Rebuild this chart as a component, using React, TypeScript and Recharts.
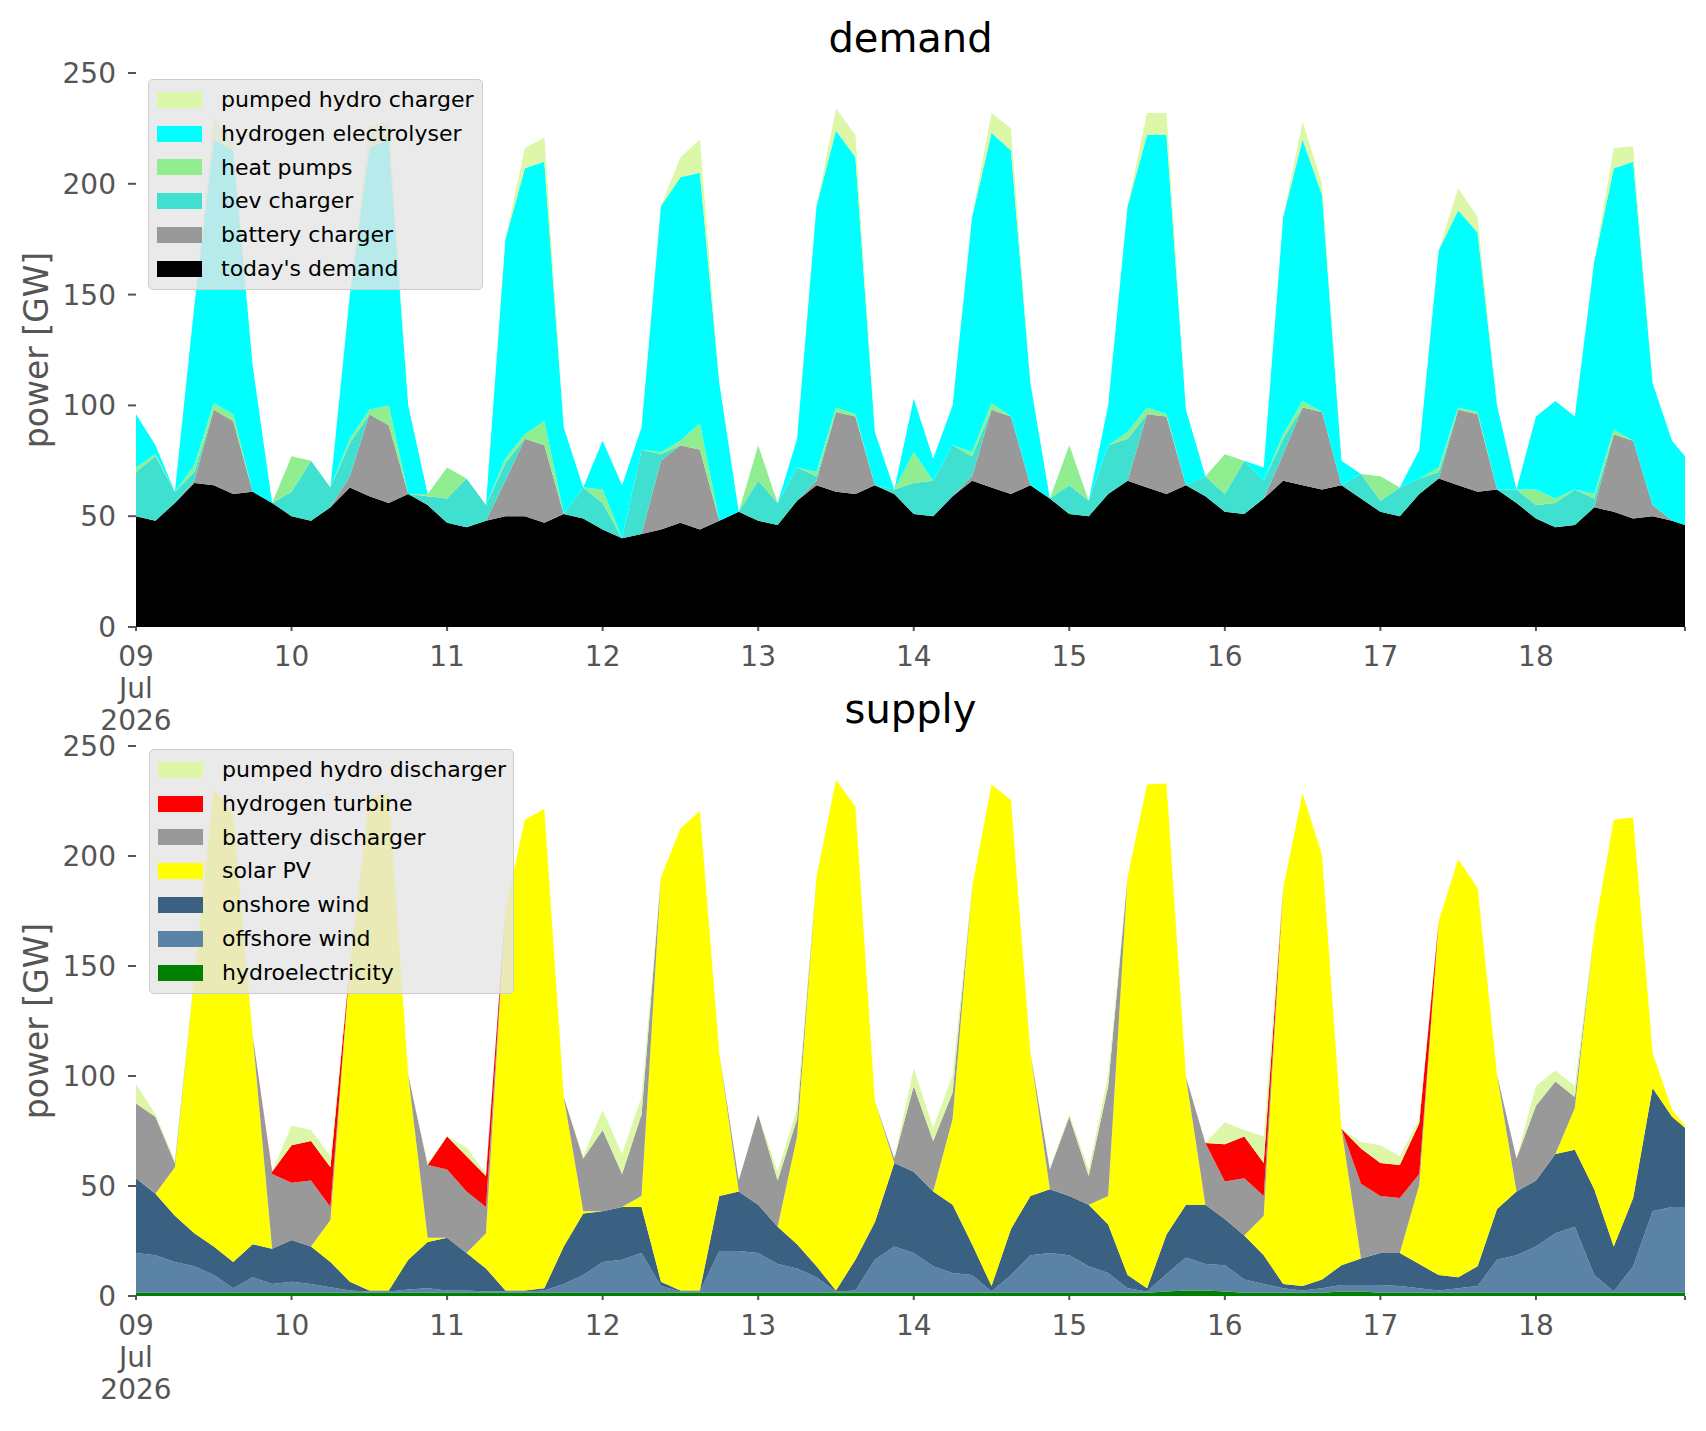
import { AreaChart, Area, XAxis, YAxis } from 'recharts';

// time axis in hours from 09 Jul 00:00 (3-hourly samples, last one at 23:00 on 18 Jul)
const HOURS = [
  0, 3, 6, 9, 12, 15, 18, 21, 24, 27, 30, 33, 36, 39, 42, 45,
  48, 51, 54, 57, 60, 63, 66, 69, 72, 75, 78, 81, 84, 87, 90, 93,
  96, 99, 102, 105, 108, 111, 114, 117, 120, 123, 126, 129, 132, 135, 138, 141,
  144, 147, 150, 153, 156, 159, 162, 165, 168, 171, 174, 177, 180, 183, 186, 189,
  192, 195, 198, 201, 204, 207, 210, 213, 216, 219, 222, 225, 228, 231, 234, 237, 239,
];

const DAY_TICKS = [0, 24, 48, 72, 96, 120, 144, 168, 192, 216, 239];
const DAY_LABELS = ['09', '10', '11', '12', '13', '14', '15', '16', '17', '18', ''];
const Y_TICKS = [0, 50, 100, 150, 200, 250];

// ---- demand [GW] ----
const TODAY = [
  50, 48, 56, 65, 64, 60, 61, 56, 50, 48, 54, 63, 59, 56, 60, 55,
  47, 45, 48, 50, 50, 47, 51, 49, 44, 40, 42, 44, 47, 44, 48, 52,
  48, 46, 57, 64, 61, 60, 64, 60, 51, 50, 59, 66, 63, 60, 64, 58,
  51, 50, 60, 66, 63, 60, 64, 59, 52, 51, 58, 66, 64, 62, 64, 58,
  52, 50, 60, 67, 64, 61, 62, 56, 49, 45, 46, 54, 52, 49, 50, 48, 46,
];
const BATTERY_CHARGER = [
  0, 0, 0, 1, 34, 33, 0, 0, 0, 0, 0, 5, 37, 35, 0, 0,
  0, 0, 0, 16, 35, 35, 0, 0, 0, 0, 0, 31, 35, 36, 0, 0,
  0, 0, 0, 2, 36, 35, 0, 0, 0, 0, 0, 2, 35, 35, 0, 0,
  0, 0, 0, 0, 33, 35, 0, 0, 0, 0, 0, 12, 35, 35, 0, 0,
  0, 0, 0, 0, 34, 35, 0, 0, 0, 0, 0, 0, 35, 35, 5, 0, 0,
];
const BEV_CHARGER = [
  20, 29, 5, 4, 0, 0, 0, 0, 11, 27, 9, 15, 0, 0, 0, 4,
  11, 22, 7, 8, 0, 0, 0, 14, 12, 0, 38, 3, 0, 0, 0, 0,
  18, 10, 15, 2, 0, 0, 0, 2, 14, 16, 23, 9, 0, 0, 0, 0,
  13, 7, 22, 19, 0, 0, 0, 9, 8, 24, 8, 7, 0, 0, 0, 11,
  5, 13, 7, 3, 0, 0, 0, 6, 6, 11, 16, 4, 0, 0, 0, 0, 0,
];
const HEAT_PUMPS = [
  2, 1, 0, 3, 3, 3, 0, 0, 16, 0, 0, 2, 2, 9, 0, 1,
  14, 0, 0, 2, 2, 11, 0, 0, 6, 0, 0, 1, 2, 12, 0, 0,
  16, 0, 0, 2, 2, 1, 0, 0, 14, 0, 0, 2, 3, 0, 0, 0,
  18, 0, 0, 3, 3, 1, 0, 0, 18, 0, 0, 2, 3, 0, 0, 0,
  11, 0, 0, 2, 1, 1, 0, 0, 7, 2, 0, 2, 2, 0, 0, 0, 0,
];
const ELECTROLYSER = [
  24, 4, 0, 72, 119, 119, 57, 0, 0, 0, 0, 65, 118, 120, 40, 0,
  0, 0, 0, 99, 120, 117, 39, 0, 22, 24, 10, 111, 119, 113, 62, 0,
  0, 0, 13, 120, 125, 116, 24, 0, 24, 10, 18, 106, 122, 120, 46, 0,
  0, 0, 18, 102, 123, 126, 34, 0, 0, 0, 6, 98, 118, 98, 11, 0,
  0, 0, 13, 98, 89, 81, 38, 0, 33, 44, 33, 105, 118, 126, 55, 36, 31,
];
const PH_CHARGER = [
  0, 0, 0, 0, 10, 3, 0, 0, 0, 0, 0, 0, 10, 8, 0, 0,
  0, 0, 0, 0, 9, 11, 0, 0, 0, 0, 0, 0, 9, 15, 0, 0,
  0, 0, 0, 0, 10, 10, 0, 0, 0, 0, 0, 0, 9, 10, 0, 0,
  0, 0, 0, 0, 10, 10, 0, 0, 0, 0, 0, 0, 8, 5, 0, 0,
  0, 0, 0, 0, 10, 7, 0, 0, 0, 0, 0, 0, 9, 7, 0, 0, 0,
];

// ---- supply [GW] ----
const HYDRO = [
  1.5, 1.5, 1.5, 1.5, 1.5, 1.5, 1.5, 1.5, 1.5, 1.5, 1.5, 1.5, 1.5, 1.5, 1.5, 1.5,
  1.5, 1.5, 1.5, 1.5, 1.5, 1.5, 1.5, 1.5, 1.5, 1.5, 1.5, 1.5, 1.5, 1.5, 1.5, 1.5,
  1.5, 1.5, 1.5, 1.5, 1.5, 1.5, 1.5, 1.5, 1.5, 1.5, 1.5, 1.5, 1.5, 1.5, 1.5, 1.5,
  1.5, 1.5, 1.5, 1.5, 1.5, 2, 2.5, 2.5, 2, 1.5, 1.5, 1.5, 1.5, 1.5, 2, 2,
  1.5, 1.5, 1.5, 1.5, 1.5, 1.5, 1.5, 1.5, 1.5, 1.5, 1.5, 1.5, 1.5, 1.5, 1.5, 1.5, 1.5,
];
const OFFSHORE = [
  18, 17, 14, 12, 8, 2, 7, 4, 5, 4, 2.5, 1, 0.5, 0.5, 1.5, 2,
  1, 1, 0.5, 0.5, 0.5, 1, 4, 8, 14, 15, 18, 3, 0.5, 0.5, 19, 19,
  18, 13, 11, 7, 0.5, 1, 15, 21, 18, 12, 9, 8, 0.5, 8, 17, 18,
  17, 12, 9, 2, 0.5, 8, 15, 12, 12, 6, 4, 2, 1, 2, 3, 3,
  3.5, 3, 2, 1, 2, 3, 15, 17, 21, 27, 30, 8, 0.5, 12, 37, 39, 39,
];
const ONSHORE = [
  34, 28, 21, 15, 13, 12, 15, 16, 19, 17, 11.5, 4, 0.5, 0.5, 13.5, 21,
  24, 17, 10.5, 0.5, 0.5, 1, 17, 28, 23, 24, 21, 2, 0.5, 0.5, 25, 27,
  22, 17, 11, 5, 0.5, 14, 17, 38, 37, 34, 31, 14, 2.5, 21, 27, 29,
  27, 28, 22, 6, 1.5, 18, 24, 27, 21, 20, 13, 2, 2, 4, 9, 12,
  14.5, 15, 11, 7, 5, 9, 23, 29, 30, 36, 35, 39, 20.5, 31, 56, 41, 36,
];
const SOLAR = [
  0, 0, 22, 117, 208, 203, 95, 0, 0, 0, 19, 144, 224, 226, 84, 2,
  0, 0, 16, 173, 214, 218, 68, 1, 0, 0, 5, 184, 210, 218, 65, 0,
  0, 0, 49, 177, 232, 206, 55, 0, 0, 0, 39, 162, 228, 195, 65, 0,
  0, 0, 13, 181, 229, 205, 58, 0, 0, 0, 18, 180, 224, 193, 62, 0,
  0, 0, 36, 161, 190, 172, 61, 0, 0, 0, 19, 117, 194, 173, 16, 3, 1,
];
const BATTERY_DISCHARGER = [
  34, 35, 2, 0, 0, 0, 0, 34, 26, 30, 6, 0, 0, 0, 0, 33,
  31, 28, 12, 0, 0, 0, 0, 24, 37, 15, 37, 0, 0, 0, 0, 5,
  41, 21, 8, 0, 0, 0, 0, 2, 39, 23, 12, 0, 0, 0, 0, 9,
  36, 13, 50, 0, 0, 0, 0, 28, 17, 26, 9, 0, 0, 0, 0, 34,
  26, 25, 5, 0, 0, 0, 0, 15, 34, 33, 5, 0, 0, 0, 0, 0, 0,
];
const H2_TURBINE = [
  0, 0, 0, 0, 0, 0, 0, 1, 17, 18, 18, 0, 0, 0, 0, 0,
  15, 16, 14, 0, 0, 0, 0, 0, 0, 0, 0, 0, 0, 0, 0, 0,
  0, 0, 0, 0, 0, 0, 0, 0, 0, 0, 0, 0, 0, 0, 0, 0,
  0, 0, 0, 0, 0, 0, 0, 0, 17, 19, 15, 0, 0, 0, 0, 16,
  15, 15, 23, 0, 0, 0, 0, 0, 0, 0, 0, 0, 0, 0, 0, 0, 0,
];
const PH_DISCHARGER = [
  9, 1, 1, 0, 0, 0, 0, 0, 9, 5, 5, 0, 0, 0, 0, 1,
  0, 4, 1, 0, 0, 0, 0, 1, 9, 9, 8, 0, 0, 0, 0, 0,
  0, 4, 5, 0, 0, 0, 0, 0, 8, 6, 8, 0, 0, 0, 0, 1,
  1, 3, 5, 0, 0, 0, 0, 0, 10, 3, 12, 0, 0, 0, 0, 3,
  8, 4, 2, 0, 0, 0, 0, 0, 9, 5, 5, 0, 0, 0, 0, 0, 0,
];

const DEMAND_SERIES = [
  { key: 'today', name: "today's demand", color: '#000000', values: TODAY },
  { key: 'battery', name: 'battery charger', color: '#999999', values: BATTERY_CHARGER },
  { key: 'bev', name: 'bev charger', color: '#40e0d0', values: BEV_CHARGER },
  { key: 'heat', name: 'heat pumps', color: '#90ee90', values: HEAT_PUMPS },
  { key: 'h2', name: 'hydrogen electrolyser', color: '#00ffff', values: ELECTROLYSER },
  { key: 'ph', name: 'pumped hydro charger', color: '#dbf7a7', values: PH_CHARGER },
];

const SUPPLY_SERIES = [
  { key: 'hydro', name: 'hydroelectricity', color: '#008000', values: HYDRO },
  { key: 'offshore', name: 'offshore wind', color: '#5b83a5', values: OFFSHORE },
  { key: 'onshore', name: 'onshore wind', color: '#3a6182', values: ONSHORE },
  { key: 'solar', name: 'solar PV', color: '#ffff00', values: SOLAR },
  { key: 'battery', name: 'battery discharger', color: '#999999', values: BATTERY_DISCHARGER },
  { key: 'h2', name: 'hydrogen turbine', color: '#ff0000', values: H2_TURBINE },
  { key: 'ph', name: 'pumped hydro discharger', color: '#dbf7a7', values: PH_DISCHARGER },
];

type Series = { key: string; name: string; color: string; values: number[] };

function toRows(series: Series[]) {
  return HOURS.map((h, i) => {
    const row: Record<string, number> = { h };
    for (const s of series) row[s.key] = s.values[i];
    return row;
  });
}

const FONT = '"DejaVu Sans", sans-serif';
const GREY = '#555555';

function DayTick({ x, y, payload }: any) {
  const idx = DAY_TICKS.indexOf(payload.value);
  const label = DAY_LABELS[idx];
  if (!label) return null;
  const lines = idx === 0 ? [label, 'Jul', '2026'] : [label];
  return (
    <text x={x} y={y} textAnchor="middle" fill={GREY} fontSize={28} fontFamily={FONT}>
      {lines.map((l, k) => (
        <tspan key={k} x={x} dy={k === 0 ? 33 : 32}>
          {l}
        </tspan>
      ))}
    </text>
  );
}

function StackPanel({ series, top, height, marginTop, marginBottom }: any) {
  const rows = toRows(series);
  return (
    <div style={{ position: 'absolute', left: 0, top }}>
      <AreaChart
        width={1706}
        height={height}
        data={rows}
        margin={{ top: marginTop, right: 21, bottom: marginBottom, left: 66 }}
      >
        <XAxis
          dataKey="h"
          type="number"
          domain={[0, 239]}
          ticks={DAY_TICKS}
          interval={0}
          axisLine={false}
          tickLine={{ stroke: GREY, strokeWidth: 2 }}
          tickSize={4}
          tickMargin={2}
          height={120}
          tick={<DayTick />}
        />
        <YAxis
          domain={[0, 250]}
          ticks={Y_TICKS}
          axisLine={false}
          tickLine={{ stroke: GREY, strokeWidth: 2 }}
          tickSize={8}
          tickMargin={12}
          width={70}
          tick={{ fill: GREY, fontSize: 28, fontFamily: FONT }}
        />
        {series.map((s: Series) => (
          <Area
            key={s.key}
            type="linear"
            dataKey={s.key}
            name={s.name}
            stackId="stack"
            stroke="none"
            fill={s.color}
            fillOpacity={1}
            dot={false}
            activeDot={false}
            isAnimationActive={false}
          />
        ))}
      </AreaChart>
    </div>
  );
}

function LegendBox({ items, left, top, width }: { items: Series[]; left: number; top: number; width: number }) {
  const rowH = 33.8;
  return (
    <div
      style={{
        position: 'absolute',
        left,
        top,
        width,
        height: items.length * rowH + 8,
        background: 'rgba(229,229,229,0.8)',
        border: '1px solid #cccccc',
        borderRadius: 5,
        boxSizing: 'border-box',
        fontFamily: FONT,
        fontSize: 22,
        color: '#000',
      }}
    >
      {items.map((s, i) => (
        <div key={s.key} style={{ position: 'absolute', left: 0, top: 3 + i * rowH, height: rowH, width: '100%' }}>
          <div
            style={{
              position: 'absolute',
              left: 8,
              top: rowH / 2 - 8,
              width: 45,
              height: 16,
              background: s.color,
            }}
          />
          <div style={{ position: 'absolute', left: 72, top: 0, lineHeight: `${rowH}px`, whiteSpace: 'nowrap' }}>
            {s.name}
          </div>
        </div>
      ))}
    </div>
  );
}

function Title({ text, centerY }: { text: string; centerY: number }) {
  return (
    <div
      style={{
        position: 'absolute',
        left: 136,
        width: 1549,
        top: centerY - 22,
        height: 44,
        lineHeight: '44px',
        textAlign: 'center',
        fontFamily: FONT,
        fontSize: 40,
        color: '#000',
      }}
    >
      {text}
    </div>
  );
}

function YLabel({ centerY }: { centerY: number }) {
  return (
    <div
      style={{
        position: 'absolute',
        left: 36,
        top: centerY,
        transform: 'translate(-50%, -50%) rotate(-90deg)',
        fontFamily: FONT,
        fontSize: 33,
        color: GREY,
        whiteSpace: 'nowrap',
      }}
    >
      power [GW]
    </div>
  );
}

export default function App() {
  return (
    <div style={{ position: 'absolute', left: 0, top: 0, width: 1706, height: 1431, background: '#fff' }}>
      <StackPanel series={DEMAND_SERIES} top={0} height={760} marginTop={73} marginBottom={13} />
      <StackPanel series={SUPPLY_SERIES} top={680} height={751} marginTop={66} marginBottom={15} />
      <Title text="demand" centerY={38} />
      <Title text="supply" centerY={709} />
      <YLabel centerY={350} />
      <YLabel centerY={1021} />
      <LegendBox items={[...DEMAND_SERIES].reverse()} left={148} top={79} width={335} />
      <LegendBox items={[...SUPPLY_SERIES].reverse()} left={149} top={749} width={365} />
    </div>
  );
}
